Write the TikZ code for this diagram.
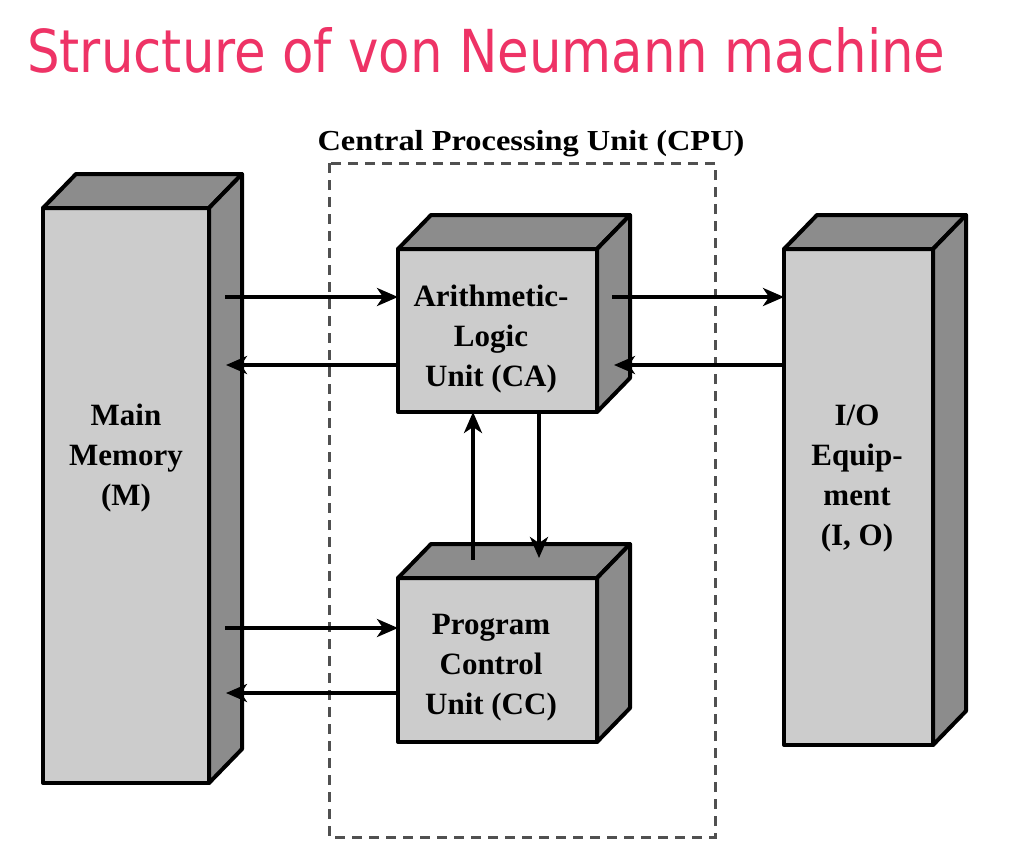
\documentclass[tikz,border=0pt]{standalone}
\usepackage{graphicx}
\usepackage{fontspec}
\setmainfont{Liberation Serif}
\newfontfamily\titlefont{DejaVu Sans}
\usetikzlibrary{arrows.meta,calc}
\definecolor{titlepink}{RGB}{238,51,102}
\definecolor{frontgray}{RGB}{204,204,204}
\definecolor{sidegray}{RGB}{140,140,140}
\definecolor{dashgray}{RGB}{80,80,80}
\newcommand\cubefaces[1]{%
  \draw[side] (#1.north west) -- ++(33,-34) -- ($(#1.north east)+(33,-34)$) -- (#1.north east) -- cycle;
  \draw[side] (#1.north east) -- ++(33,-34) -- ($(#1.south east)+(33,-34)$) -- (#1.south east) -- cycle;
}
\begin{document}
\begin{tikzpicture}[x=1pt,y=-1pt,
  front/.style={draw=black, line width=4pt, fill=frontgray, rectangle, inner sep=0pt, outer sep=0pt, line join=round},
  side/.style={draw=black, line width=4pt, fill=sidegray, line join=round},
  lbl/.style={font=\fontsize{31}{40}\selectfont\bfseries, align=center, inner sep=0pt},
  arr/.style={line width=3.5pt, -{Stealth[length=21pt,width=18pt,inset=6pt]}},
  cpubox/.style={draw=dashgray, line width=3pt, dash pattern=on 10pt off 7pt}]
\useasboundingbox (0,0) rectangle (1016,860);

% title
\node[anchor=base west, inner sep=0pt, text=titlepink] (title) at (27,72)
  {\resizebox{918pt}{45pt}{\titlefont Structure of von Neumann machine}};

% CPU dashed box
\draw[cpubox] (329,163) rectangle (715,837);
\node[lbl, anchor=base] (cpulabel) at (531,150)
  {\resizebox{427pt}{\height}{\fontsize{29}{36}\selectfont\bfseries Central Processing Unit (CPU)}};

% boxes
\node[front, minimum width=166pt, minimum height=575pt] (mm) at (126,495.5) {};
\cubefaces{mm}
\node[front, minimum width=199pt, minimum height=163pt] (alu) at (497.5,330.5) {};
\cubefaces{alu}
\node[front, minimum width=199pt, minimum height=164pt] (pcu) at (497.5,660) {};
\cubefaces{pcu}
\node[front, minimum width=149pt, minimum height=496pt] (io) at (858.5,497) {};
\cubefaces{io}

% labels
\node[lbl] (mmtext) at (126,458) {Main\\Memory\\(M)};
\node[lbl] (alutext) at (491,339) {Arithmetic-\\Logic\\Unit (CA)};
\node[lbl] (pcutext) at (491,668) {Program\\Control\\Unit (CC)};
\node[lbl] (iotext) at (857,479) {I/O\\Equip-\\ment\\(I, O)};

% connection points
\coordinate (aluin) at ([yshift=33.5pt]alu.west);
\coordinate (aluout) at ([yshift=-34.5pt]alu.west);
\coordinate (pcuin) at ([yshift=32pt]pcu.west);
\coordinate (pcuout) at ([yshift=-33pt]pcu.west);

% arrows
\draw[arr] ($(mm.east |- aluin)+(16,0)$) -- (aluin);
\draw[arr] (aluout) -- ($(mm.east |- aluout)+(17,0)$);
\draw[arr] ($(alu.east |- aluin)+(15,0)$) -- (io.west |- aluin);
\draw[arr] (io.west |- aluout) -- ($(alu.east |- aluout)+(17,0)$);
\draw[arr] ($(pcu.north)+(-24.5,-18)$) -- ($(alu.south)+(-24.5,0)$);
\draw[arr] ($(alu.south)+(41.5,0)$) -- ($(pcu.north)+(41.5,-20)$);
\draw[arr] ($(mm.east |- pcuin)+(16,0)$) -- (pcuin);
\draw[arr] (pcuout) -- ($(mm.east |- pcuout)+(17,0)$);
\end{tikzpicture}
\end{document}
